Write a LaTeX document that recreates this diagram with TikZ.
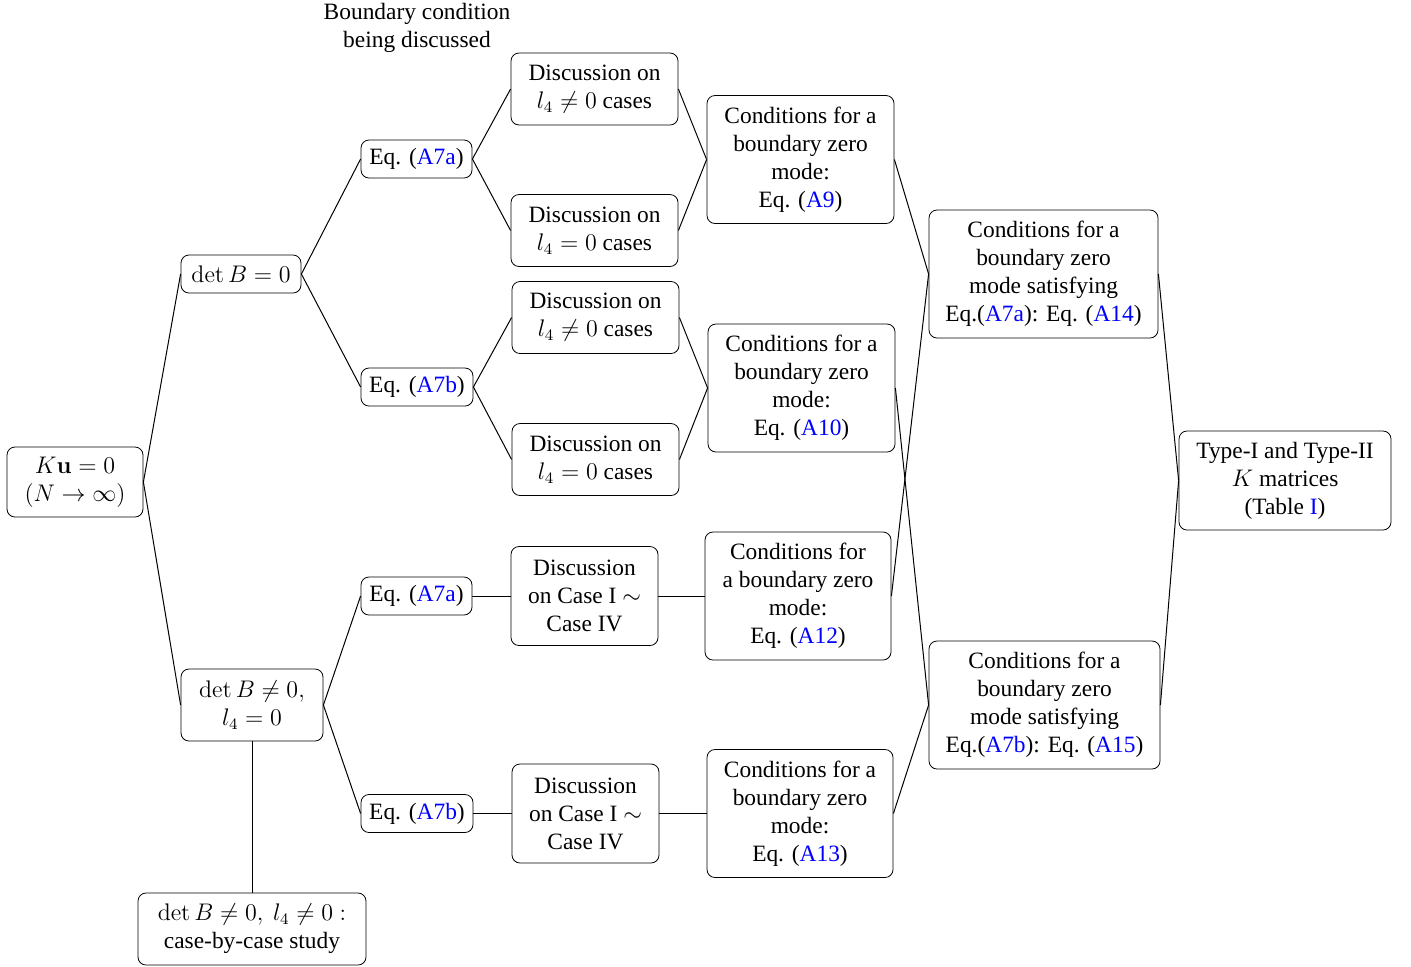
\documentclass[tikz,border=0pt]{standalone}
\usepackage[no-math]{fontspec}
\setmainfont{Liberation Serif}
\definecolor{refblue}{rgb}{0,0,1}
\newcommand{\rf}[1]{\textcolor{refblue}{#1}}
\begin{document}
\begin{tikzpicture}[x=0.5pt,y=-0.5pt,
  font=\fontsize{11.7}{14}\selectfont,
  box/.style={draw,rounded corners=4pt,align=center,inner sep=0pt},
  s38/.style={box,minimum height=19pt},
  s72/.style={box,minimum height=36pt},
  s99/.style={box,minimum height=49.5pt},
  s128/.style={box,minimum height=64pt},
  conn/.style={line width=0.5pt}]
\useasboundingbox (0,0) rectangle (1411,966);
\node[box,minimum width=68pt,minimum height=35pt] (root) at (75,482) {$K\mathbf{u}=0$\\$(N\to\infty)$};
\node[s38,minimum width=60pt] (b0) at (241,274) {$\det B=0$};
\node[s72,minimum width=71pt] (bn) at (252,705) {$\det B\neq 0,$\\$l_4=0$};
\node[s72,minimum width=114pt] (cs) at (252,929) {$\det B\neq 0,\ l_4\neq 0:$\\case-by-case study};
\node[s38,minimum width=55.5pt] (ea1) at (416.5,159) {Eq. (\rf{A7a})};
\node[s38,minimum width=56pt] (eb1) at (417,387) {Eq. (\rf{A7b})};
\node[s38,minimum width=55.5pt] (ea2) at (416.5,596) {Eq. (\rf{A7a})};
\node[s38,minimum width=56pt] (eb2) at (417,813.5) {Eq. (\rf{A7b})};
\node[s72,minimum width=83.5pt] (d1) at (594.5,89) {Discussion on\\$l_4\neq 0$ cases};
\node[s72,minimum width=83.5pt] (d2) at (594.5,230.5) {Discussion on\\$l_4=0$ cases};
\node[s72,minimum width=83.5pt] (d3) at (595.5,317.5) {Discussion on\\$l_4\neq 0$ cases};
\node[s72,minimum width=83.5pt] (d4) at (595.5,459.5) {Discussion on\\$l_4=0$ cases};
\node[s99,minimum width=73.5pt] (c1) at (584.5,596) {Discussion\\on Case I $\sim$\\Case IV};
\node[s99,minimum width=73.5pt] (c2) at (585.5,813.5) {Discussion\\on Case I $\sim$\\Case IV};
\node[s128,minimum width=93.5pt] (k9) at (800.5,159.5) {Conditions for a\\boundary zero\\mode:\\Eq. (\rf{A9})};
\node[s128,minimum width=93.5pt] (k10) at (801.5,388) {Conditions for a\\boundary zero\\mode:\\Eq. (\rf{A10})};
\node[s128,minimum width=93pt] (k12) at (798,596) {Conditions for\\a boundary zero\\mode:\\Eq. (\rf{A12})};
\node[s128,minimum width=93pt] (k13) at (800,813.5) {Conditions for a\\boundary zero\\mode:\\Eq. (\rf{A13})};
\node[s128,minimum width=114.5pt] (k14) at (1043.5,274) {Conditions for a\\boundary zero\\mode satisfying\\Eq.(\rf{A7a}): Eq. (\rf{A14})};
\node[s128,minimum width=115.5pt] (k15) at (1044.5,705) {Conditions for a\\boundary zero\\mode satisfying\\Eq.(\rf{A7b}): Eq. (\rf{A15})};
\node[s99,minimum width=106pt] (ty) at (1285,480.5) {Type-I and Type-II\\$K$ matrices\\(Table \rf{I})};
\node[align=center,inner sep=0pt] (lab) at (417,28) {Boundary condition\\being discussed};
\draw[conn] (root.east) -- (b0.west);
\draw[conn] (root.east) -- (bn.west);
\draw[conn] (b0.east) -- (ea1.west);
\draw[conn] (b0.east) -- (eb1.west);
\draw[conn] (bn.east) -- (ea2.west);
\draw[conn] (bn.east) -- (eb2.west);
\draw[conn] (bn.south) -- (cs.north);
\draw[conn] (ea1.east) -- (d1.west);
\draw[conn] (ea1.east) -- (d2.west);
\draw[conn] (eb1.east) -- (d3.west);
\draw[conn] (eb1.east) -- (d4.west);
\draw[conn] (ea2.east) -- (c1.west);
\draw[conn] (eb2.east) -- (c2.west);
\draw[conn] (d1.east) -- (k9.west);
\draw[conn] (d2.east) -- (k9.west);
\draw[conn] (d3.east) -- (k10.west);
\draw[conn] (d4.east) -- (k10.west);
\draw[conn] (c1.east) -- (k12.west);
\draw[conn] (c2.east) -- (k13.west);
\draw[conn] (k9.east) -- (k14.west);
\draw[conn] (k12.east) -- (k14.west);
\draw[conn] (k10.east) -- (k15.west);
\draw[conn] (k13.east) -- (k15.west);
\draw[conn] (k14.east) -- (ty.west);
\draw[conn] (k15.east) -- (ty.west);
\end{tikzpicture}
\end{document}
